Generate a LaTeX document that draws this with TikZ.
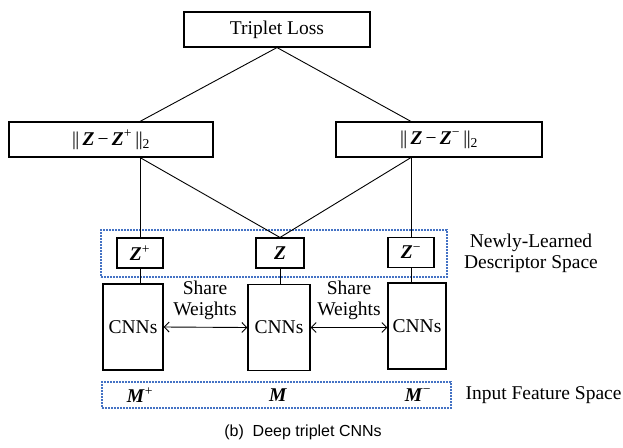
\documentclass[tikz,border=0pt]{standalone}
\usepackage{fontspec}
\setmainfont{Liberation Serif}
\newfontfamily\capfont{Liberation Sans}
\usetikzlibrary{arrows.meta}
\definecolor{dotblue}{RGB}{68,114,196}
\newcommand{\bz}{\textbf{\textit{Z}}}
\newcommand{\bm}{\textbf{\textit{M}}}
\newcommand{\dbar}{\textbar\kern-0.5pt\textbar}
\begin{document}
\begin{tikzpicture}[x=1pt,y=-1pt,
  txt/.style={font=\fontsize{19.5}{21}\selectfont, align=center, inner sep=0pt},
  box/.style={draw, line width=1.1pt, txt},
  conn/.style={line width=0.9pt},
  dotbox/.style={draw=dotblue, line width=1.8pt, dash pattern=on 1.6pt off 1.4pt, inner sep=0pt},
  barb/.style={line width=0.9pt, {Straight Barb[length=5pt,width=10pt]}-{Straight Barb[length=5pt,width=10pt]}}
  ]
\useasboundingbox (0,0) rectangle (623,447);
% dotted regions
\node[dotbox, minimum width=346pt, minimum height=47pt] (desc) at (274,253.5) {};
\node[dotbox, minimum width=349pt, minimum height=26pt] (inp) at (276.5,395) {};
% boxes
\node[box, minimum width=186pt, minimum height=35pt] (loss) at (277,29.5) {Triplet Loss};
\node[box, minimum width=204pt, minimum height=35pt] (np) at (111,139.5)
  {\dbar\,\bz\,−\,\bz\textsuperscript{+}\,\dbar\textsubscript{2}};
\node[box, minimum width=206pt, minimum height=35pt] (nn) at (439,139.5)
  {\dbar\,\bz\,−\,\bz\textsuperscript{−}\,\dbar\textsubscript{2}};
\node[box, minimum width=46pt, minimum height=30pt] (zp) at (140,253) {\bz\textsuperscript{+}};
\node[box, minimum width=48pt, minimum height=30pt] (z) at (280,253) {\bz};
\node[box, minimum width=46pt, minimum height=30pt] (zn) at (411,252.5) {\bz\textsuperscript{−}};
\node[box, minimum width=60pt, minimum height=86pt] (cp) at (133,327) {CNNs};
\node[box, minimum width=62pt, minimum height=86pt] (c) at (279,327.5) {CNNs};
\node[box, minimum width=58pt, minimum height=86pt] (cn) at (417,326) {CNNs};
% connectors
\draw[conn] (loss.south) -- (np.north -| zp.north);
\draw[conn] (loss.south) -- (nn.north -| zn.north);
\draw[conn] (np.south -| zp.north) -- (zp.north);
\draw[conn] (np.south -| zp.north) -- (z.north);
\draw[conn] (nn.south -| zn.north) -- (zn.north);
\draw[conn] (nn.south -| zn.north) -- (z.north);
\draw[conn] (zp.south) -- (cp.north -| zp.south);
\draw[conn] (z.south) -- (c.north -| z.south);
\draw[conn] (zn.south) -- (cn.north -| zn.south);
\draw[barb] (cp.east) -- (c.west);
\draw[barb] (c.east) -- (cn.west |- c.east);
% labels
\node[txt] (sw1) at (205,300.5) {Share\\Weights};
\node[txt] (sw2) at (349,300.5) {Share\\Weights};
\node[txt] (mp) at (140,395) {\bm\textsuperscript{+}};
\node[txt] (m) at (278,395) {\bm};
\node[txt] (mn) at (418,395) {\bm\textsuperscript{−}};
\node[txt] (desclbl) at (531,253) {Newly-Learned\\Descriptor Space};
\node[txt] (inplbl) at (543.5,395) {Input Feature Space};
\node[inner sep=0pt, font=\capfont\fontsize{16}{18}\selectfont] (cap) at (303,432) {(b)\ \ Deep triplet CNNs};
\end{tikzpicture}
\end{document}
